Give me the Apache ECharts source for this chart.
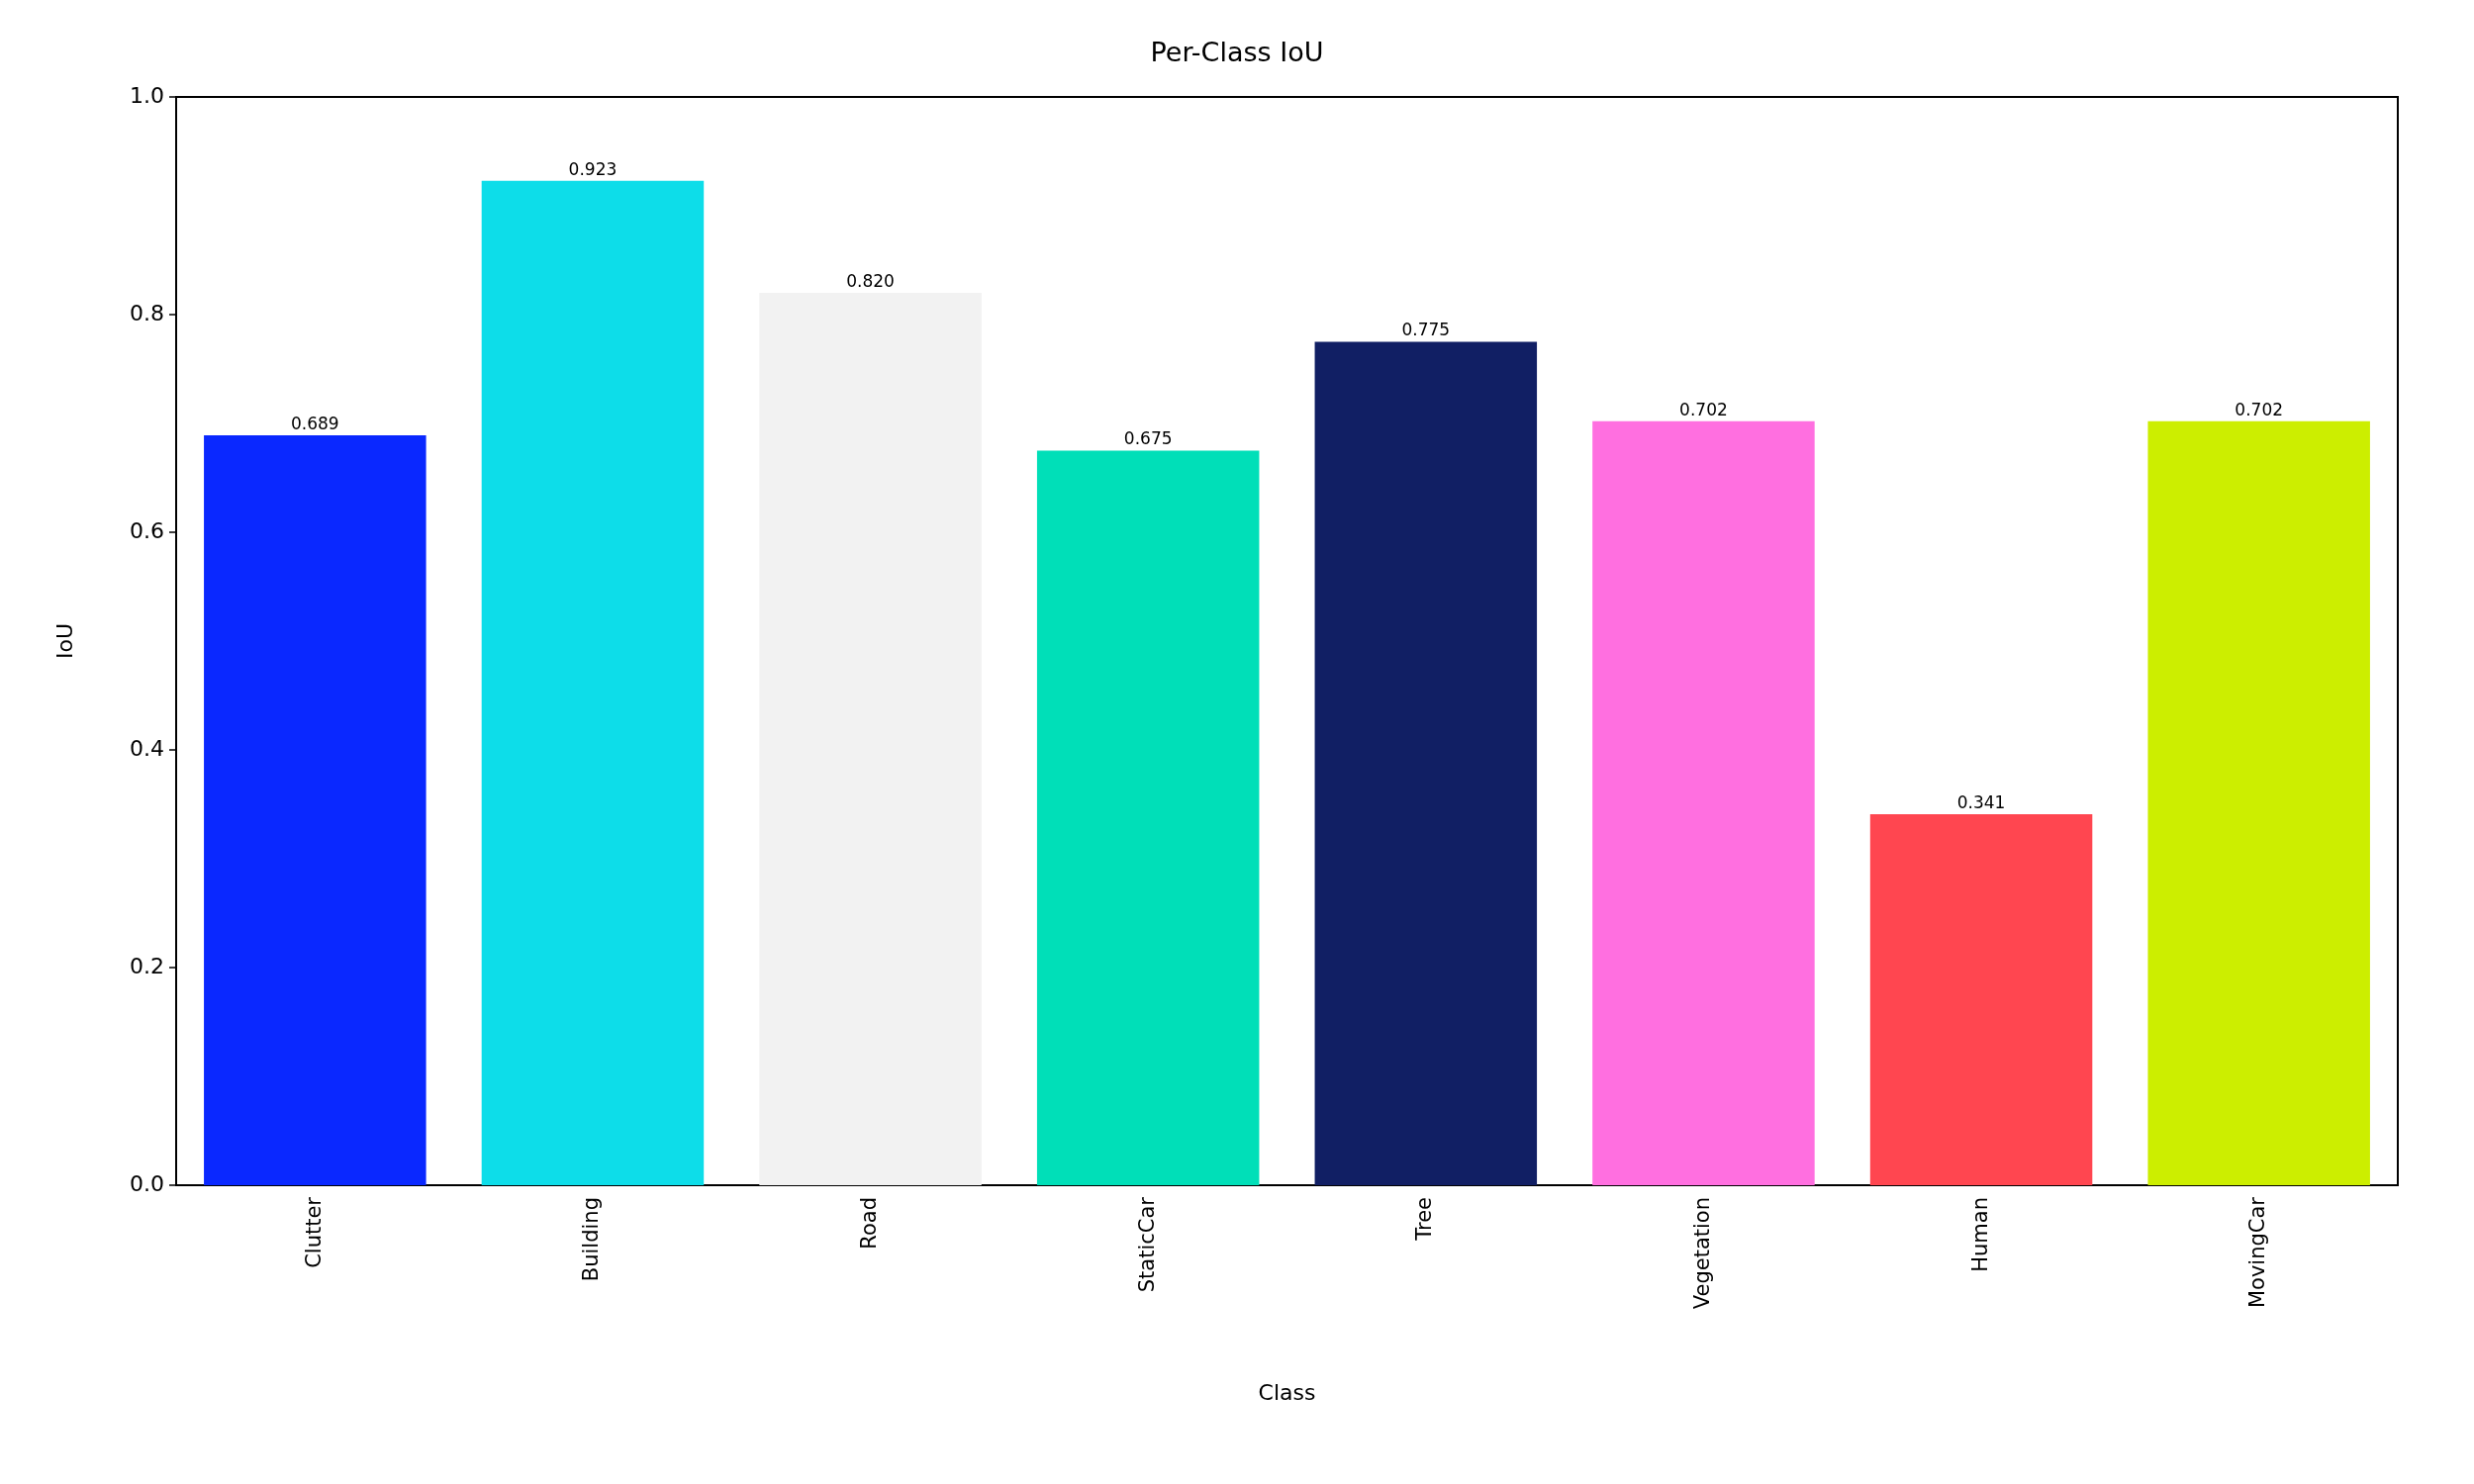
<!DOCTYPE html>
<html><head><meta charset="utf-8">
<script src="https://cdn.jsdelivr.net/npm/echarts@6/dist/echarts.min.js"></script>
<style>html,body{margin:0;padding:0;background:#fff}#c{width:2500px;height:1500px}</style>
</head><body><div id="c"></div>
<script>
const categories = ['Clutter','Building','Road','StaticCar','Tree','Vegetation','Human','MovingCar'];
const iouValues = [0.689,0.923,0.820,0.675,0.775,0.702,0.341,0.702];
const barColors = ['#0a28ff','#0ddde9','#f2f2f2','#00dfb8','#111f64','#ff6fe0','#ff4650','#ccee00'];
const yTicks = [0,0.2,0.4,0.6,0.8,1.0];
const font = 'DejaVu Sans';
const chart = echarts.init(document.getElementById('c'));
chart.setOption({
  animation:false,
  title:{text:'Per-Class IoU',left:'center',top:36,textStyle:{fontFamily:font,fontSize:27,fontWeight:'normal',color:'#000'}},
  grid:{left:178,right:77,top:98,bottom:302,show:true,borderColor:'#000',borderWidth:2},
  xAxis:{type:'category',data:categories,name:'Class',nameLocation:'middle',nameGap:200,
    nameTextStyle:{fontFamily:font,fontSize:22,color:'#000'},
    axisLine:{lineStyle:{color:'#000',width:2}},
    axisTick:{alignWithLabel:true,length:7,lineStyle:{color:'#000',width:1.5}},
    axisLabel:{rotate:90,fontFamily:font,fontSize:21,color:'#000',margin:12}},
  yAxis:{type:'value',min:0,max:1,interval:0.2,name:'IoU',nameLocation:'middle',nameGap:100,
    nameTextStyle:{fontFamily:font,fontSize:22,color:'#000'},
    splitLine:{show:false},
    axisLine:{show:true,lineStyle:{color:'#000',width:2}},
    axisTick:{show:true,length:7,lineStyle:{color:'#000',width:1.5}},
    axisLabel:{fontFamily:font,fontSize:22,color:'#000',margin:12,formatter:v=>v.toFixed(1)}},
  series:[{type:'bar',barWidth:'80%',
    data:iouValues.map((v,i)=>({value:v,itemStyle:{color:barColors[i]}})),
    label:{show:true,position:'top',distance:2,fontFamily:font,fontSize:17,color:'#000',formatter:p=>p.value.toFixed(3)}}]
});
</script></body></html>
